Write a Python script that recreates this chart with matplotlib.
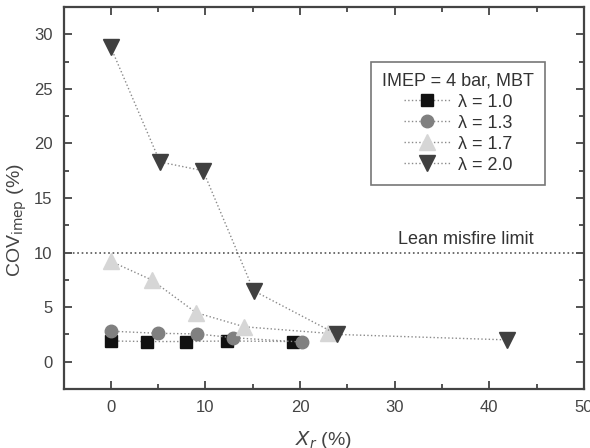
from matplotlib import pyplot as plt

plt.rcParams['font.family'] = ['Liberation Sans', 'DejaVu Sans']

# lambda = 1.0
x_l10 = [0, 3.8, 7.95, 12.3, 19.3]
y_l10 = [1.9, 1.85, 1.85, 1.9, 1.85]
# lambda = 1.3
x_l13 = [0, 5.0, 9.1, 12.9, 20.2]
y_l13 = [2.8, 2.6, 2.55, 2.2, 1.8]
# lambda = 1.7
x_l17 = [0, 4.3, 9.0, 14.1, 23.0]
y_l17 = [9.2, 7.5, 4.5, 3.2, 2.6]
# lambda = 2.0
x_l20 = [0, 5.2, 9.75, 15.1, 23.9, 41.9]
y_l20 = [28.8, 18.3, 17.5, 6.5, 2.5, 2.0]

lean_limit = 10

series = [
    (x_l10, y_l10, 's', '#111111', 8.4, 'λ = 1.0'),
    (x_l13, y_l13, 'o', '#808080', 9.0, 'λ = 1.3'),
    (x_l17, y_l17, '^', '#d6d6d6', 11, 'λ = 1.7'),
    (x_l20, y_l20, 'v', '#404040', 11.3, 'λ = 2.0'),
]

fig = plt.figure(figsize=(5.9, 4.48), dpi=100)
ax = fig.add_axes([63.5 / 590, 1 - 389 / 448, (584 - 63.5) / 590, (389 - 7) / 448])

for xs, ys, m, c, ms, lab in series:
    ax.plot(xs, ys, linestyle=':', color='#8a8a8a', linewidth=1.0,
            marker=m, markersize=ms, markerfacecolor=c, markeredgecolor=c,
            label=lab)

ax.axhline(lean_limit, color='#555555', linestyle=':', linewidth=1.2)
ax.text(44.7, 10.75, 'Lean misfire limit', ha='right', va='baseline',
        fontsize=13, color='#333333')

ax.set_xlim(-5, 50)
ax.set_ylim(-2.45, 32.5)
ax.set_xticks([0, 10, 20, 30, 40, 50])
ax.set_xticks([-5, 5, 15, 25, 35, 45], minor=True)
ax.set_yticks([0, 5, 10, 15, 20, 25, 30])
ax.set_yticks([-2.5, 2.5, 7.5, 12.5, 17.5, 22.5, 27.5, 32.5], minor=True)
ax.tick_params(which='both', direction='in', top=True, right=True,
               colors='#444444', labelcolor='#444444', labelsize=12)
ax.tick_params(which='major', length=6, width=1.3, pad=8)
ax.tick_params(which='minor', length=3.5, width=1.3)
for s in ax.spines.values():
    s.set_linewidth(1.6)
    s.set_color('#444444')

ax.set_ylabel(r'COV$_{\mathrm{imep}}$ (%)', fontsize=14, color='#444444')
ax.yaxis.set_label_coords(-0.066, 0.442)
ax.set_xlabel(r'$X_{r}$ (%)', fontsize=14, color='#444444', labelpad=10)

leg = ax.legend(title='IMEP = 4 bar, MBT', loc='upper right',
                bbox_to_anchor=(0.925, 0.856), fontsize=13,
                title_fontsize=13, frameon=True, fancybox=False,
                edgecolor='#555555', handlelength=2.6, borderpad=0.6,
                labelspacing=0.22, handletextpad=0.4, borderaxespad=0)
leg.get_frame().set_linewidth(1.2)
for t in leg.get_texts():
    t.set_color('#333333')
leg.get_title().set_color('#333333')

plt.savefig('out.png', dpi=100)
